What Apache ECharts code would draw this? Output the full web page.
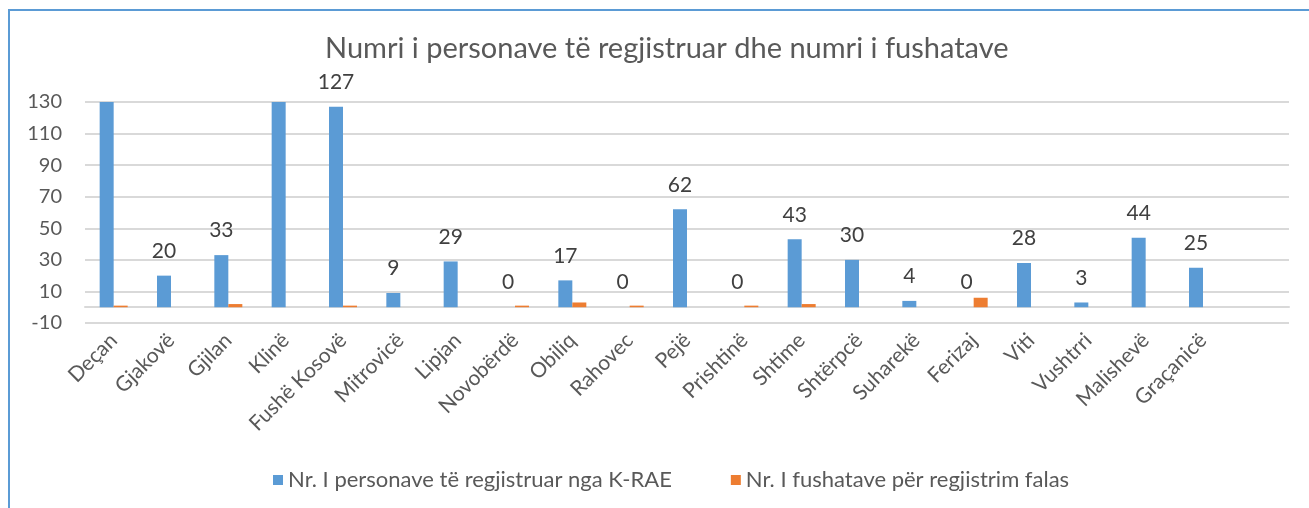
<!DOCTYPE html>
<html>
<head>
<meta charset="utf-8">
<script src="https://cdn.jsdelivr.net/npm/echarts@6/dist/echarts.min.js"></script>
<style>
  html, body { margin: 0; padding: 0; background: #fff; }
  #chart { width: 1309px; height: 508px; }
</style>
</head>
<body>
<div id="chart"></div>
<script>
// komunat
var categories = ['Deçan', 'Gjakovë', 'Gjilan', 'Klinë', 'Fushë Kosovë', 'Mitrovicë', 'Lipjan',
    'Novobërdë', 'Obiliq', 'Rahovec', 'Pejë', 'Prishtinë', 'Shtime', 'Shtërpcë', 'Suharekë',
    'Ferizaj', 'Viti', 'Vushtrri', 'Malishevë', 'Graçanicë', ''];
// Deçan and Klinë run past the top of the axis, their real height is not visible
var personat = [150, 20, 33, 140, 127, 9, 29, 0, 17, 0, 62, 0, 43, 30, 4, 0, 28, 3, 44, 25, null];
var fushatat = [1, 0, 2, 0, 1, 0, 0, 1, 3, 1, 0, 1, 2, 0, 0, 6, 0, 0, 0, 0, null];
var yTicks = { min: -10, max: 130, step: 20 };

var textColor = '#595959';
var font = 'Lato, "Open Sans", sans-serif';

var chart = echarts.init(document.getElementById('chart'));

var option = {
    backgroundColor: '#fff',
    textStyle: { fontFamily: font },
    title: {
        text: 'Numri i personave të regjistruar dhe numri i fushatave',
        left: 320,
        top: 29,
        textStyle: { fontSize: 29, fontWeight: 'normal', color: textColor, fontFamily: font }
    },
    graphic: [{
        type: 'rect',
        shape: { x: 9, y: 10, width: 1400, height: 600 },
        style: { fill: null, stroke: '#5b9bd5', lineWidth: 2 },
        silent: true
    }],
    legend: {
        data: ['Nr. I personave të regjistruar nga K-RAE', 'Nr. I fushatave për regjistrim falas'],
        left: 268,
        top: 464,
        itemWidth: 10,
        itemHeight: 10,
        itemGap: 59,
        icon: 'rect',
        textStyle: { fontSize: 22, color: textColor, fontFamily: font }
    },
    grid: { left: 85, right: 20, top: 102, bottom: 185 },
    xAxis: {
        type: 'category',
        data: categories,
        axisLine: { lineStyle: { color: '#d9d9d9', width: 2 } },
        axisTick: { show: false },
        axisLabel: { rotate: 45, margin: 14, fontSize: 21, color: textColor, interval: 0 }
    },
    yAxis: {
        type: 'value',
        min: yTicks.min,
        max: yTicks.max,
        interval: yTicks.step,
        axisLine: { show: false },
        axisTick: { show: false },
        splitLine: { lineStyle: { color: '#d9d9d9', width: 2 } },
        axisLabel: { fontSize: 20, color: textColor, margin: 23 }
    },
    series: [{
        name: 'Nr. I personave të regjistruar nga K-RAE',
        type: 'bar',
        data: personat,
        barWidth: 14,
        barGap: '0%',
        itemStyle: { color: '#5b9bd5' },
        label: {
            show: true,
            position: 'top',
            distance: 14,
            fontSize: 21,
            color: '#404040',
            formatter: function (p) {
                // labels of bars cut off by the axis max are not drawn
                return p.value > yTicks.max ? '' : p.value;
            }
        }
    }, {
        name: 'Nr. I fushatave për regjistrim falas',
        type: 'bar',
        data: fushatat,
        barWidth: 14,
        itemStyle: { color: '#ed7d31' }
    }]
};

chart.setOption(option);
</script>
</body>
</html>
